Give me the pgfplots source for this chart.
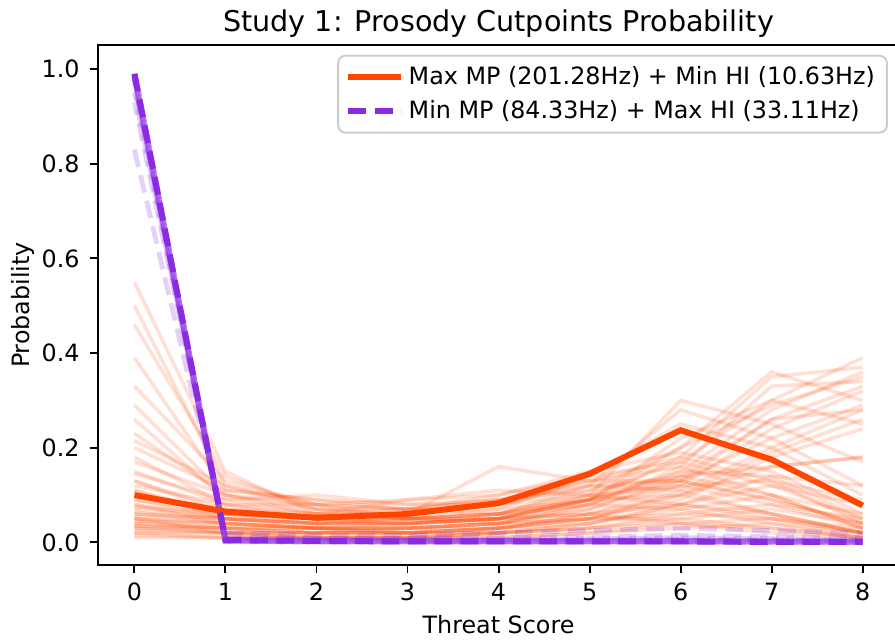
\documentclass[border=0pt]{standalone}
\usepackage{fontspec}
\setmainfont{DejaVu Sans}
\usepackage{pgfplots}
\pgfplotsset{compat=1.18}
\definecolor{org}{HTML}{FF4500}
\definecolor{pur}{HTML}{8A2BE2}
\definecolor{legframe}{HTML}{CCCCCC}
\newcommand\ol[9]{\addplot[faintO] coordinates {(0,#1)(1,#2)(2,#3)(3,#4)(4,#5)(5,#6)(6,#7)(7,#8)(8,#9)};}
\newcommand\pl[2]{\addplot[faintP, dash phase=#1] coordinates {#2};}
\begin{document}
\begin{tikzpicture}
\begin{axis}[
  name=ax,
  scale only axis,
  width=335.1bp, height=217.6bp,
  xmin=-0.4, xmax=8.4, ymin=-0.048, ymax=1.051,
  xtick={0,1,2,3,4,5,6,7,8},
  ytick={0,0.2,0.4,0.6,0.8,1.0},
  tick pos=left,
  tick align=outside,
  major tick length=3.5bp,
  every tick/.style={black, line width=0.8bp},
  axis line style={line width=0.8bp},
  /pgf/number format/assume math mode=true,
  xticklabel style={anchor=base, inner sep=0pt, yshift=-11.2bp},
  yticklabel style={anchor=east, inner sep=0pt, xshift=-4bp,
    /pgf/number format/.cd, fixed, fixed zerofill, precision=1},
  title={Study 1: Prosody Cutpoints Probability},
  every axis title/.style={at={(axis description cs:0.5,1.0257)}, anchor=base, font=\fontsize{12}{14}\selectfont},
  xlabel={Threat Score},
  xlabel style={at={(axis description cs:0.5,-0.131)}, anchor=base},
  ylabel={Probability},
  ylabel style={at={(axis description cs:-0.085,0.5)}, anchor=base},
  faintO/.style={org, opacity=0.17, line width=1.5bp, forget plot},
  faintP/.style={pur, opacity=0.22, line width=2bp, dash pattern=on 7.5bp off 3.5bp, forget plot},
  nearP/.style={pur, opacity=0.35, line width=2.5bp, dash pattern=on 7.5bp off 3.5bp, forget plot},
  legend image code/.code={\draw[#1] (0bp,0bp) -- (22bp,0bp);},
  legend style={at={(axis description cs:0.986,0.981)}, anchor=north east,
    draw=legframe, line width=0.8bp, rounded corners=3bp, fill=white, fill opacity=0.8, text opacity=1,
    inner xsep=3bp, inner ysep=2.5bp, row sep=1bp,
    nodes={inner sep=2bp, anchor=west},
    font=\fontsize{10}{12}\selectfont},
  legend cell align=left,
]
% faint orange sample lines
\ol{.55}{.15}{.06}{.05}{.05}{.06}{.04}{.02}{.01}
\ol{.50}{.12}{.08}{.05}{.04}{.05}{.05}{.03}{.01}
\ol{.46}{.14}{.07}{.05}{.05}{.06}{.08}{.06}{.02}
\ol{.39}{.11}{.09}{.07}{.06}{.08}{.07}{.04}{.01}
\ol{.33}{.13}{.08}{.07}{.07}{.09}{.10}{.06}{.02}
\ol{.29}{.10}{.07}{.06}{.08}{.10}{.12}{.08}{.03}
\ol{.26}{.09}{.10}{.08}{.08}{.12}{.13}{.09}{.04}
\ol{.215}{.12}{.07}{.07}{.09}{.11}{.14}{.10}{.03}
\ol{.18}{.08}{.08}{.07}{.10}{.14}{.17}{.12}{.05}
\ol{.145}{.09}{.06}{.09}{.10}{.15}{.19}{.15}{.06}
\ol{.13}{.07}{.06}{.06}{.16}{.13}{.13}{.09}{.04}
\ol{.12}{.08}{.05}{.05}{.07}{.14}{.25}{.20}{.10}
\ol{.11}{.06}{.04}{.05}{.06}{.12}{.28}{.22}{.12}
\ol{.10}{.07}{.05}{.04}{.06}{.10}{.30}{.25}{.17}
\ol{.09}{.05}{.04}{.04}{.05}{.09}{.22}{.30}{.25}
\ol{.08}{.05}{.04}{.05}{.06}{.11}{.20}{.36}{.30}
\ol{.075}{.06}{.05}{.04}{.05}{.09}{.18}{.35}{.37}
\ol{.07}{.05}{.03}{.04}{.05}{.10}{.17}{.30}{.39}
\ol{.065}{.04}{.03}{.03}{.04}{.08}{.15}{.28}{.36}
\ol{.06}{.05}{.04}{.04}{.05}{.08}{.16}{.33}{.34}
\ol{.055}{.04}{.03}{.03}{.04}{.07}{.14}{.26}{.33}
\ol{.05}{.04}{.03}{.03}{.03}{.06}{.12}{.24}{.32}
\ol{.05}{.03}{.02}{.03}{.04}{.07}{.13}{.22}{.29}
\ol{.045}{.04}{.03}{.02}{.03}{.05}{.11}{.20}{.28}
\ol{.04}{.03}{.02}{.02}{.03}{.06}{.10}{.19}{.26}
\ol{.04}{.03}{.03}{.02}{.03}{.05}{.09}{.18}{.24}
\ol{.035}{.02}{.02}{.02}{.03}{.05}{.10}{.16}{.18}
\ol{.03}{.03}{.02}{.02}{.02}{.04}{.08}{.14}{.12}
\ol{.03}{.02}{.02}{.02}{.03}{.04}{.08}{.12}{.08}
\ol{.025}{.02}{.01}{.01}{.02}{.04}{.07}{.10}{.06}
\ol{.02}{.02}{.01}{.01}{.02}{.03}{.06}{.08}{.05}
\ol{.02}{.01}{.01}{.01}{.02}{.03}{.05}{.07}{.04}
\ol{.015}{.01}{.01}{.01}{.01}{.02}{.04}{.05}{.03}
\ol{.01}{.01}{.01}{.01}{.01}{.02}{.03}{.04}{.02}
\ol{.13}{.06}{.05}{.06}{.08}{.13}{.16}{.10}{.03}
\ol{.15}{.08}{.06}{.07}{.09}{.12}{.11}{.06}{.02}
\ol{.17}{.10}{.08}{.09}{.11}{.10}{.08}{.05}{.02}
\ol{.23}{.10}{.06}{.05}{.06}{.09}{.15}{.14}{.05}
\ol{.11}{.05}{.04}{.04}{.05}{.09}{.20}{.29}{.35}
\ol{.09}{.06}{.05}{.05}{.06}{.09}{.13}{.26}{.28}
\ol{.06}{.05}{.04}{.04}{.05}{.09}{.14}{.16}{.18}
\ol{.035}{.03}{.03}{.03}{.04}{.08}{.12}{.13}{.09}
\ol{.08}{.04}{.03}{.03}{.04}{.05}{.06}{.05}{.02}
\ol{.05}{.02}{.02}{.02}{.02}{.03}{.04}{.03}{.01}
\ol{.20}{.11}{.09}{.08}{.09}{.13}{.18}{.13}{.04}
% faint purple sample lines
\pl{0bp}{(0,.83)(1,.02)(2,.015)(3,.015)(4,.02)(5,.025)(6,.03)(7,.025)(8,.02)}
\pl{2bp}{(0,.93)(1,.012)(2,.01)(3,.01)(4,.01)(5,.012)(6,.015)(7,.012)(8,.01)}
\pl{4bp}{(0,.95)(1,.008)(2,.006)(3,.006)(4,.006)(5,.008)(6,.01)(7,.008)(8,.006)}
\pl{6bp}{(0,.97)(1,.006)(2,.004)(3,.004)(4,.004)(5,.005)(6,.006)(7,.005)(8,.004)}
% near-identical purple samples
\addplot[nearP, dash phase=2bp] coordinates {(0,.985)(1,.004)(2,.003)(3,.002)(4,.002)(5,.002)(6,.002)(7,.002)(8,.001)};
\addplot[nearP, dash phase=4bp] coordinates {(0,.99)(1,.003)(2,.002)(3,.002)(4,.002)(5,.002)(6,.002)(7,.002)(8,.001)};
\addplot[nearP, dash phase=6bp] coordinates {(0,.98)(1,.005)(2,.003)(3,.003)(4,.003)(5,.003)(6,.003)(7,.002)(8,.002)};
\addplot[nearP, dash phase=8.5bp] coordinates {(0,.992)(1,.004)(2,.002)(3,.002)(4,.002)(5,.002)(6,.002)(7,.001)(8,.001)};
% main lines
\addplot[org, line width=2.5bp] coordinates {(0,0.100)(1,0.065)(2,0.052)(3,0.060)(4,0.083)(5,0.145)(6,0.237)(7,0.175)(8,0.078)};
\addlegendentry{Max MP (201.28Hz) + Min HI (10.63Hz)}
\addplot[pur, line width=2.5bp, dash pattern=on 7.5bp off 3.5bp] coordinates {(0,0.990)(1,0.005)(2,0.003)(3,0.002)(4,0.002)(5,0.002)(6,0.002)(7,0.001)(8,0.001)};
\addlegendentry{Min MP (84.33Hz) + Max HI (33.11Hz)}
\end{axis}
\pgfresetboundingbox
\path[use as bounding box] ([shift={(-41bp,-32.2bp)}]ax.south west) rectangle ([shift={(-1.7bp,18.8bp)}]ax.north east);
\end{tikzpicture}
\end{document}
